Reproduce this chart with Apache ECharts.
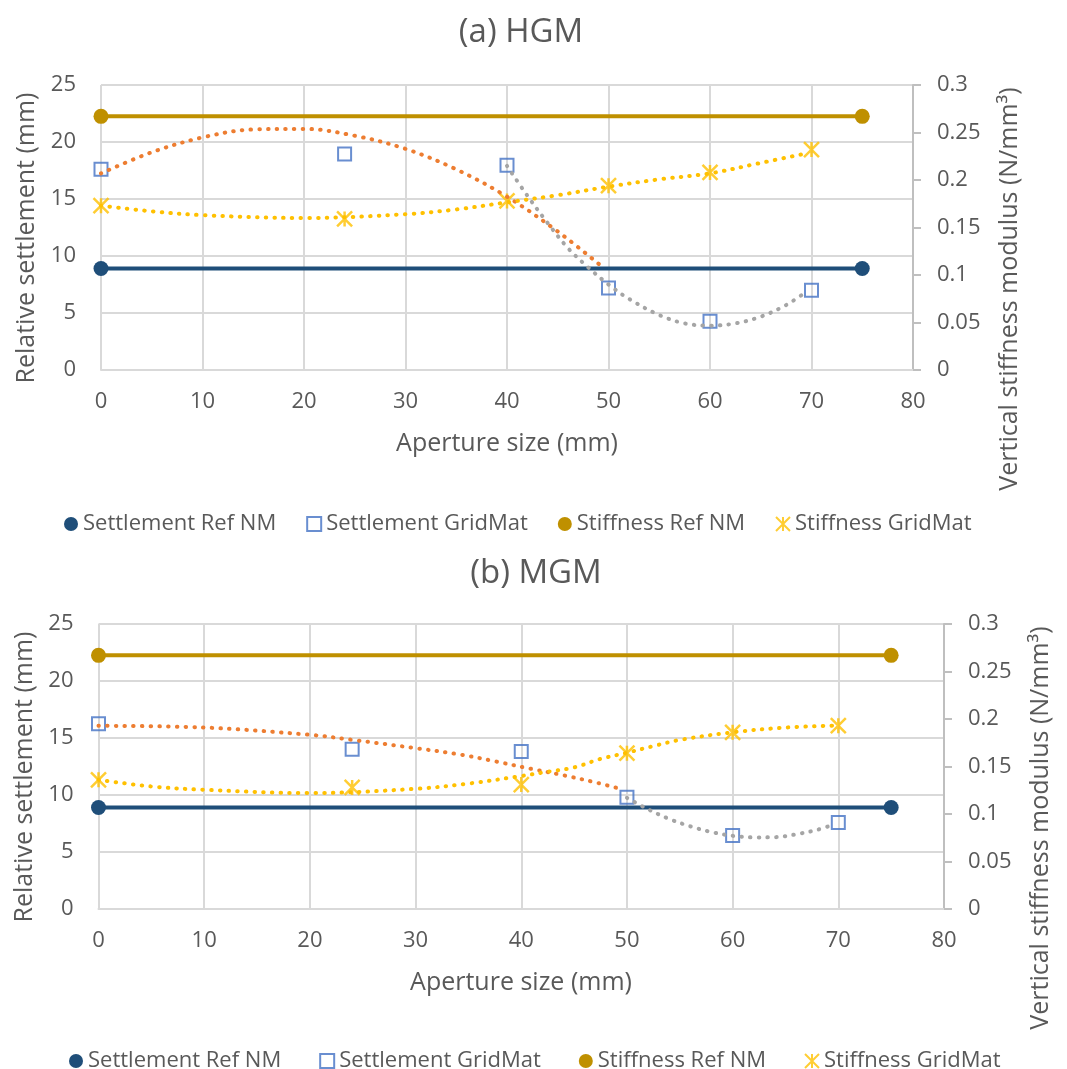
<!DOCTYPE html>
<html>
<head>
<meta charset="utf-8">
<script src="https://cdn.jsdelivr.net/npm/echarts@6/dist/echarts.min.js"></script>
<style>
html,body{margin:0;padding:0;background:#fff;}
#chart{width:1067px;height:1069px;}
</style>
</head>
<body>
<div id="chart"></div>
<script>
// ---------- data ----------
const seriesNames = ['Settlement Ref NM', 'Settlement GridMat', 'Stiffness Ref NM', 'Stiffness GridMat'];
const panelTitles = ['(a) HGM', '(b) MGM'];
const xAxisTitle = 'Aperture size (mm)';
const leftAxisTitle = 'Relative settlement (mm)';
const rightAxisTitle = 'Vertical stiffness modulus (N/mm³)';

const apertureX = [0, 24, 40, 50, 60, 70];
const refX = [0, 75];

// Panel (a) HGM
const settleRefA = [8.9, 8.9];
const stiffRefA = [0.267, 0.267];
const settleGridA = [17.6, 18.95, 17.95, 7.2, 4.27, 7.0];
const stiffGridA = [0.173, 0.159, 0.178, 0.194, 0.208, 0.232];
const trendSettleA1X = [0, 5, 10, 15, 20, 25, 30, 35, 40, 45, 49.6];
const trendSettleA1Y = [17.25, 19.1, 20.4, 21.1, 21.15, 20.55, 19.4, 17.6, 15.2, 12.15, 8.9];
const trendSettleA2X = [40, 42, 44, 46, 48, 50, 52, 55, 57.5, 60, 62.5, 65, 67.5, 69.5];
const trendSettleA2Y = [17.9, 15.3, 12.9, 10.7, 9.0, 7.5, 6.25, 4.82, 4.09, 3.89, 4.09, 4.68, 5.7, 6.87];
const trendStiffAX = [0, 5, 10, 20, 30, 35, 40, 45, 50, 55, 60, 65, 69.5];
const trendStiffAY = [0.173, 0.167, 0.163, 0.160, 0.164, 0.169, 0.1765, 0.184, 0.193, 0.2007, 0.207, 0.218, 0.228];

// Panel (b) MGM
const settleRefB = [8.9, 8.9];
const stiffRefB = [0.267, 0.267];
const settleGridB = [16.24, 14.02, 13.81, 9.8, 6.45, 7.59];
const stiffGridB = [0.136, 0.128, 0.131, 0.164, 0.186, 0.193];
const trendSettleB1X = [0, 10, 20, 24, 30, 34.4, 37.6, 40.9, 44.1, 47.3, 49.7];
const trendSettleB1Y = [16.07, 15.92, 15.28, 14.84, 14.11, 13.52, 12.94, 12.3, 11.71, 11.04, 10.46];
const trendSettleB2X = [50, 52, 54, 56, 58, 60, 62, 64, 66, 68, 69.7];
const trendSettleB2Y = [9.75, 8.75, 7.9, 7.25, 6.75, 6.42, 6.28, 6.3, 6.55, 6.95, 7.45];
const trendStiffBX = [0, 5, 10, 20, 30, 35, 40, 42.5, 45, 47.5, 50, 52.5, 55, 60, 65, 69.5];
const trendStiffBY = [0.136, 0.129, 0.1255, 0.122, 0.1265, 0.132, 0.140, 0.1445, 0.149, 0.158, 0.1645, 0.1715, 0.178, 0.186, 0.191, 0.193];

// ---------- styling ----------
const FONT = "'Open Sans', 'Noto Sans', sans-serif";
const TXT = '#595959';
const C_SREF = '#1F4E79';
const C_SGRID = '#4472C4';
const C_KREF = '#BF9000';
const C_KGRID = '#FFC000';
const C_ORANGE = '#ED7D31';
const C_GRAY = '#A5A5A5';
const C_GRID = '#D9D9D9';
const ASTERISK = 'path://M0,0L10,10M10,0L0,10M5,0L5,10';

const zip = (xs, ys) => xs.map((x, i) => [x, ys[i]]);

const grids = [
  { left: 101, right: 1067 - 913, top: 85, height: 285 },
  { left: 98.5, right: 1067 - 944, top: 624, height: 285 }
];

function xAxisFor(i) {
  return {
    type: 'value', gridIndex: i, min: 0, max: 80, interval: 10,
    axisLine: { show: true, lineStyle: { color: C_GRID, width: 2 } },
    axisTick: { show: false },
    axisLabel: { color: TXT, fontFamily: FONT, fontSize: 22, margin: 21 },
    splitLine: { show: true, lineStyle: { color: C_GRID, width: 2 } }
  };
}
function leftAxisFor(i) {
  return {
    type: 'value', gridIndex: i, position: 'left', min: 0, max: 25, interval: 5,
    axisLine: { show: false }, axisTick: { show: false },
    axisLabel: { color: TXT, fontFamily: FONT, fontSize: 22, margin: 25 },
    splitLine: { show: true, lineStyle: { color: C_GRID, width: 2 } }
  };
}
function rightAxisFor(i) {
  return {
    type: 'value', gridIndex: i, position: 'right', min: 0, max: 0.3, interval: 0.05,
    axisLine: { show: true, lineStyle: { color: '#BFBFBF', width: 2 } },
    axisTick: { show: true, inside: false, length: 8, lineStyle: { color: '#BFBFBF', width: 2 } },
    axisLabel: { color: TXT, fontFamily: FONT, fontSize: 22, margin: 24 },
    splitLine: { show: false }
  };
}

function trend(name, xi, yi, xs, ys, color) {
  return {
    name: name, type: 'line', xAxisIndex: xi, yAxisIndex: yi,
    data: zip(xs, ys), smooth: 0.35, showSymbol: false, symbol: 'none',
    silent: true, z: 5, clip: false,
    lineStyle: { color: color, width: 4, type: [0.5, 8.2], cap: 'round' }
  };
}

function panelSeries(p, sRef, kRef, sGrid, kGrid, t1x, t1y, t2x, t2y, tkx, tky) {
  const yl = p * 2, yr = p * 2 + 1;
  return [
    { name: seriesNames[0], type: 'line', xAxisIndex: p, yAxisIndex: yl, data: zip(refX, sRef),
      symbol: 'circle', symbolSize: 15, clip: false, z: 3,
      itemStyle: { color: C_SREF }, lineStyle: { color: C_SREF, width: 4 } },
    { name: seriesNames[2], type: 'line', xAxisIndex: p, yAxisIndex: yr, data: zip(refX, kRef),
      symbol: 'circle', symbolSize: 15, clip: false, z: 3,
      itemStyle: { color: C_KREF }, lineStyle: { color: C_KREF, width: 4 } },
    { name: seriesNames[1], type: 'scatter', xAxisIndex: p, yAxisIndex: yl, data: zip(apertureX, sGrid),
      symbol: 'rect', symbolSize: 13, clip: false, z: 4,
      itemStyle: { color: 'rgba(255,255,255,0)', borderColor: C_SGRID, borderWidth: 2 } },
    { name: seriesNames[3], type: 'scatter', xAxisIndex: p, yAxisIndex: yr, data: zip(apertureX, kGrid),
      symbol: ASTERISK, symbolSize: 15, clip: false, z: 4,
      itemStyle: { color: C_KGRID, borderColor: C_KGRID, borderWidth: 2.5 } },
    trend('trendA' + p, p, yl, t1x, t1y, C_ORANGE),
    trend('trendB' + p, p, yl, t2x, t2y, C_GRAY),
    trend('trendC' + p, p, yr, tkx, tky, C_KGRID)
  ];
}

const legendData = [
  { name: seriesNames[0], icon: 'circle', itemStyle: { color: C_SREF } },
  { name: seriesNames[1], icon: 'rect', itemStyle: { color: 'rgba(255,255,255,0)', borderColor: C_SGRID, borderWidth: 2 } },
  { name: seriesNames[2], icon: 'circle', itemStyle: { color: C_KREF } },
  { name: seriesNames[3], icon: ASTERISK, itemStyle: { color: C_KGRID, borderColor: C_KGRID, borderWidth: 2 } }
];
function legendFor(left, top, gap) {
  return {
    data: legendData, left: left, top: top, itemGap: gap, itemWidth: 14, itemHeight: 14,
    selectedMode: false,
    textStyle: { color: TXT, fontFamily: FONT, fontSize: 22 }
  };
}

function axisText(text, x, y, rot) {
  return {
    type: 'text', x: x, y: y, rotation: rot,
    style: { text: text, fill: TXT, font: '25px ' + FONT, textAlign: 'center', textVerticalAlign: 'middle' }
  };
}

const option = {
  backgroundColor: '#ffffff',
  animation: false,
  title: [
    { text: panelTitles[0], left: 516, top: 11, textAlign: 'center',
      textStyle: { color: TXT, fontFamily: FONT, fontSize: 33, fontWeight: 'normal' } },
    { text: panelTitles[1], left: 531, top: 552, textAlign: 'center',
      textStyle: { color: TXT, fontFamily: FONT, fontSize: 33, fontWeight: 'normal' } }
  ],
  legend: [legendFor(59, 508, 30), legendFor(64, 1045, 38)],
  grid: grids,
  xAxis: [xAxisFor(0), xAxisFor(1)],
  yAxis: [leftAxisFor(0), rightAxisFor(0), leftAxisFor(1), rightAxisFor(1)],
  graphic: [
    axisText(xAxisTitle, 507, 444, 0),
    axisText(xAxisTitle, 521, 983, 0),
    axisText(leftAxisTitle, 27, 238, Math.PI / 2),
    axisText(leftAxisTitle, 25, 777, Math.PI / 2),
    axisText(rightAxisTitle, 1010, 289, Math.PI / 2),
    axisText(rightAxisTitle, 1041, 828, Math.PI / 2)
  ],
  series: [].concat(
    panelSeries(0, settleRefA, stiffRefA, settleGridA, stiffGridA,
      trendSettleA1X, trendSettleA1Y, trendSettleA2X, trendSettleA2Y, trendStiffAX, trendStiffAY),
    panelSeries(1, settleRefB, stiffRefB, settleGridB, stiffGridB,
      trendSettleB1X, trendSettleB1Y, trendSettleB2X, trendSettleB2Y, trendStiffBX, trendStiffBY)
  )
};

const chart = echarts.init(document.getElementById('chart'), null, { renderer: 'canvas' });
chart.setOption(option);
</script>
</body>
</html>
